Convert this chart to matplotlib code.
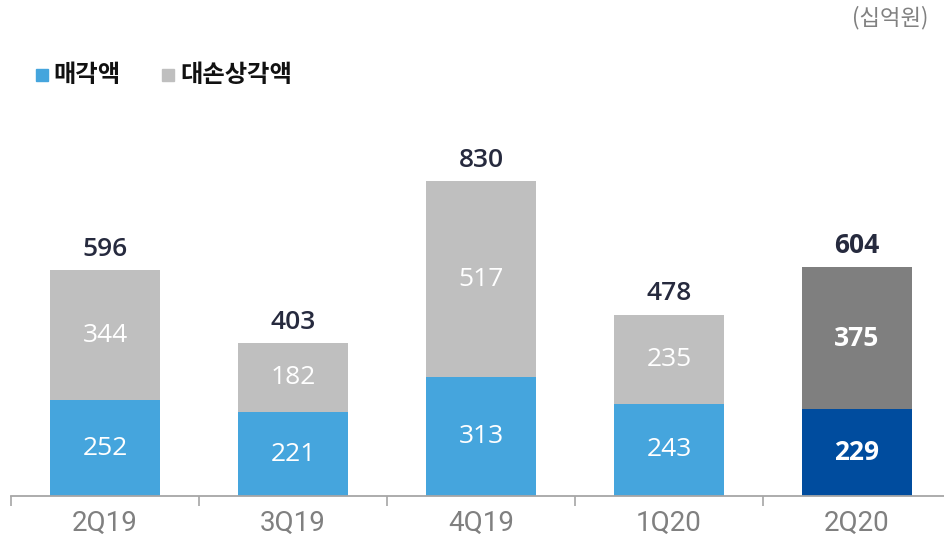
import matplotlib
matplotlib.use("Agg")
import matplotlib.pyplot as plt

plt.rcParams['font.family'] = ['Noto Sans CJK KR', 'DejaVu Sans']

quarters = ["2Q19", "3Q19", "4Q19", "1Q20", "2Q20"]
sold = [252, 221, 313, 243, 229]          # 매각액
written_off = [344, 182, 517, 235, 375]   # 대손상각액
totals = [596, 403, 830, 478, 604]

blue = ["#45A5DD"] * 4 + ["#004C9E"]
gray = ["#BFBFBF"] * 4 + ["#7F7F7F"]

fig = plt.figure(figsize=(9.45, 5.38), dpi=100)
ax = fig.add_axes([11 / 945, 42 / 538, 940 / 945, 379 / 538])

x = range(len(quarters))
w = 0.585
ax.bar(x, sold, width=w, color=blue, zorder=2)
ax.bar(x, written_off, width=w, bottom=sold, color=gray, zorder=2)

for i in x:
    last = i == len(quarters) - 1
    wt = "bold" if last else "normal"
    ax.text(i, sold[i] / 2, str(sold[i]), ha="center", va="center",
            color="white", fontsize=19, fontweight=wt, family="Open Sans")
    ax.text(i, sold[i] + written_off[i] / 2, str(written_off[i]), ha="center",
            va="center", color="white", fontsize=19, fontweight=wt, family="Open Sans")
    ax.text(i, totals[i] + 22, str(totals[i]), ha="center", va="bottom",
            color="#262A3E", fontsize=19, fontweight="bold" if last else "semibold",
            family="Open Sans")

ax.set_xlim(-0.5, 4.5)
ax.set_ylim(0, 1000)
for s in ["top", "right", "left"]:
    ax.spines[s].set_visible(False)
ax.spines["bottom"].set_color("#A6A6A6")
ax.spines["bottom"].set_linewidth(1.3)
ax.set_yticks([])
ax.set_xticks([i - 0.5 for i in range(len(quarters) + 1)], minor=False)
ax.set_xticklabels([""] * (len(quarters) + 1))
ax.tick_params(axis="x", length=7, width=1.2, color="#A6A6A6", direction="out")
ax.set_xticks(list(x), minor=True)
ax.set_xticklabels(quarters, minor=True)
ax.tick_params(axis="x", which="minor", length=0, pad=10, labelsize=20,
               labelcolor="#808080")
for lbl in ax.get_xticklabels(minor=True):
    lbl.set_family(["Roboto", "DejaVu Sans"])

# legend
fig.patches.append(plt.Rectangle((36 / 945, 1 - 81 / 538), 12 / 945, 12 / 538,
                                 transform=fig.transFigure, color="#45A5DD"))
fig.text(53 / 945, 1 - 75 / 538, "매각액", fontsize=17.5, fontweight="bold",
         va="center", ha="left", color="#111111")
fig.patches.append(plt.Rectangle((162 / 945, 1 - 81 / 538), 12 / 945, 12 / 538,
                                 transform=fig.transFigure, color="#BFBFBF"))
fig.text(180 / 945, 1 - 75 / 538, "대손상각액", fontsize=17.5, fontweight="bold",
         va="center", ha="left", color="#111111")

fig.text(928 / 945, 1 - 18 / 538, "(십억원)", fontsize=16, va="center",
         ha="right", color="#808080")

fig.savefig("out.png", dpi=100)
